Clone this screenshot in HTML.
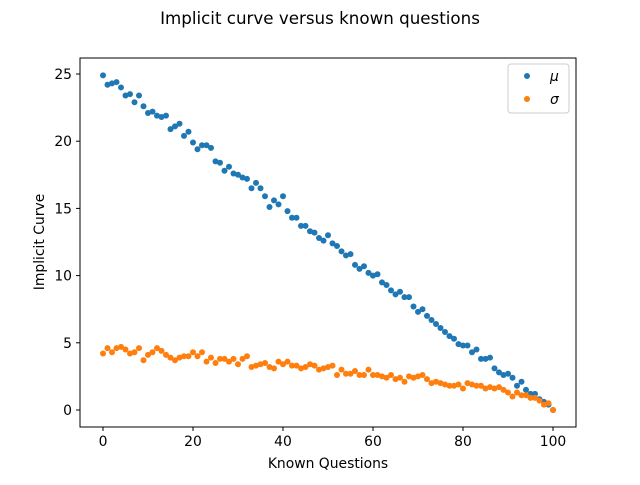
<!DOCTYPE html>
<html><head><meta charset="utf-8"><style>
body{margin:0;background:#fff;}
svg text{font-family:"DejaVu Sans","Liberation Sans",sans-serif;}
</style></head><body>
<svg id="chart" width="640" height="480">
<rect width="640" height="480" fill="#fff"/>
<text x="320" y="24" font-size="16.7" text-anchor="middle">Implicit curve versus known questions</text>
<g id="marks"></g>
<rect x="80" y="58" width="496" height="369" fill="none" stroke="#000" stroke-width="1"/>
<g id="ticks"></g>
<text x="328" y="468" font-size="13.9" text-anchor="middle">Known Questions</text>
<text transform="translate(44,242) rotate(-90)" font-size="13.9" text-anchor="middle">Implicit Curve</text>
<g>
<rect x="508" y="64" width="61" height="49" rx="3" fill="#fff" stroke="#ccc"/>
<circle cx="527" cy="76" r="3" fill="#1f77b4"/>
<text x="550" y="81" font-size="13.9" font-style="italic">μ</text>
<circle cx="527" cy="99" r="3" fill="#ff7f0e"/>
<text x="550" y="104" font-size="13.9" font-style="italic">σ</text>
</g>
</svg>
<script>
const mu=[24.9,24.2,24.3,24.4,24.0,23.4,23.5,22.9,23.4,22.6,22.1,22.2,21.9,21.8,21.9,20.9,21.1,21.3,20.4,20.7,19.9,19.4,19.7,19.7,19.5,18.5,18.4,17.8,18.1,17.6,17.5,17.3,17.2,16.5,16.9,16.5,15.9,15.1,15.6,15.3,15.9,14.8,14.3,14.3,13.7,13.7,13.3,13.2,12.8,12.6,13.0,12.4,12.2,11.8,11.5,11.6,10.8,10.5,10.7,10.2,10.0,10.1,9.5,9.3,8.9,8.6,8.8,8.4,8.4,7.7,7.3,7.5,7.0,6.7,6.4,6.1,5.8,5.5,5.3,4.9,4.8,4.8,4.3,4.5,3.8,3.8,3.9,3.1,2.8,2.6,2.7,2.4,1.8,2.1,1.5,1.2,1.2,0.8,0.6,0.4,0.0];
const sigma=[4.2,4.6,4.3,4.6,4.7,4.5,4.2,4.3,4.6,3.7,4.1,4.3,4.6,4.4,4.1,3.9,3.7,3.9,4.0,4.0,4.3,4.0,4.3,3.6,3.9,3.5,3.8,3.8,3.6,3.8,3.4,3.8,4.0,3.2,3.3,3.4,3.5,3.2,3.1,3.6,3.4,3.6,3.3,3.3,3.1,3.2,3.4,3.3,3.0,3.1,3.2,3.3,2.6,3.0,2.7,2.7,2.9,2.6,2.6,3.0,2.6,2.6,2.5,2.4,2.6,2.3,2.4,2.1,2.5,2.4,2.5,2.6,2.3,2.0,2.1,2.0,1.9,1.8,1.8,1.9,1.6,2.0,1.9,1.8,1.8,1.6,1.7,1.6,1.7,1.5,1.3,1.0,1.3,1.1,1.1,0.9,0.9,0.7,0.4,0.5,0.0];
const xTicks=[0,20,40,60,80,100];
const yTicks=[0,5,10,15,20,25];
const NS='http://www.w3.org/2000/svg';
function xs(v){return 103+v*4.5;}
function ys(v){return 410-v*13.44;}
const marks=document.getElementById('marks');
function series(arr,color,name){
  arr.forEach((v,i)=>{
    const c=document.createElementNS(NS,'circle');
    c.setAttribute('cx',xs(i));c.setAttribute('cy',ys(v));c.setAttribute('r',3);c.setAttribute('fill',color);
    
    
    marks.appendChild(c);
  });
}
series(mu,'#1f77b4','mu');
series(sigma,'#ff7f0e','sigma');
const ticks=document.getElementById('ticks');
xTicks.forEach(t=>{
  const l=document.createElementNS(NS,'line');
  l.setAttribute('x1',xs(t));l.setAttribute('x2',xs(t));l.setAttribute('y1',427);l.setAttribute('y2',431);l.setAttribute('stroke','#000');
  
  
  ticks.appendChild(l);
  const tx=document.createElementNS(NS,'text');
  tx.setAttribute('x',xs(t));tx.setAttribute('y',446);tx.setAttribute('font-size',13.9);tx.setAttribute('text-anchor','middle');tx.textContent=t;
  
  
  ticks.appendChild(tx);
});
yTicks.forEach(t=>{
  const l=document.createElementNS(NS,'line');
  l.setAttribute('x1',76);l.setAttribute('x2',80);l.setAttribute('y1',ys(t));l.setAttribute('y2',ys(t));l.setAttribute('stroke','#000');
  
  
  ticks.appendChild(l);
  const tx=document.createElementNS(NS,'text');
  tx.setAttribute('x',72);tx.setAttribute('y',ys(t)+5);tx.setAttribute('font-size',13.9);tx.setAttribute('text-anchor','end');tx.textContent=t;
  
  
  ticks.appendChild(tx);
});
</script>
</body></html>
